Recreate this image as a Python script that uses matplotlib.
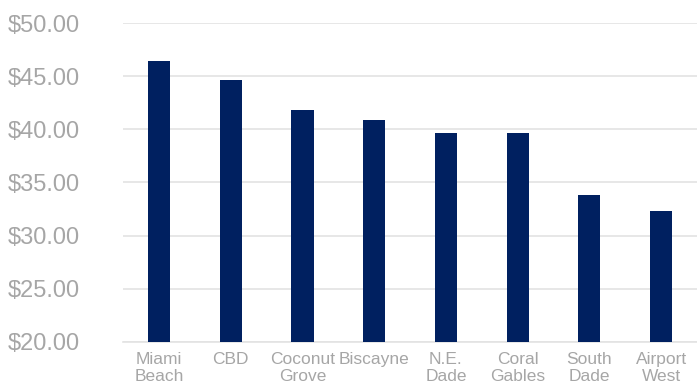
import numpy as np
import matplotlib.pyplot as plt
from matplotlib.ticker import FuncFormatter

areas = ["Miami\nBeach", "CBD", "Coconut\nGrove", "Biscayne", "N.E.\nDade",
         "Coral\nGables", "South\nDade", "Airport\nWest"]
rents = [46.44, 44.66, 41.82, 40.91, 39.69, 39.69, 33.85, 32.29]
y_ticks = [20, 25, 30, 35, 40, 45, 50]

plt.rcParams['font.family'] = ['Liberation Sans', 'DejaVu Sans']

fig = plt.figure(figsize=(6.97, 3.88), dpi=100)
ax = fig.add_axes([0.1765, 0.1186, 0.8235, 0.8221])

x = np.arange(len(areas))
ax.bar(x, rents, width=0.31, color='#002060', zorder=3)

ax.set_xlim(-0.5, len(areas) - 0.5)
ax.set_ylim(20, 50)
ax.set_yticks(y_ticks)
ax.yaxis.set_major_formatter(FuncFormatter(lambda v, p: f"${v:.2f}"))
ax.set_xticks(x)
ax.set_xticklabels(areas, linespacing=1.2, family=['Liberation Sans Narrow', 'Liberation Sans'])

ax.grid(axis='y', color='#E3E3E3', linewidth=1.2, zorder=0)
for s in ['top', 'right', 'left']:
    ax.spines[s].set_visible(False)
ax.spines['bottom'].set_color('#E3E3E3')
ax.spines['bottom'].set_linewidth(1.2)

ax.tick_params(axis='y', length=0, pad=31, labelsize=17, labelcolor='#A6A6A6')
ax.tick_params(axis='x', length=0, pad=7, labelsize=12.5, labelcolor='#A6A6A6')

fig.savefig('out.png', dpi=100)
